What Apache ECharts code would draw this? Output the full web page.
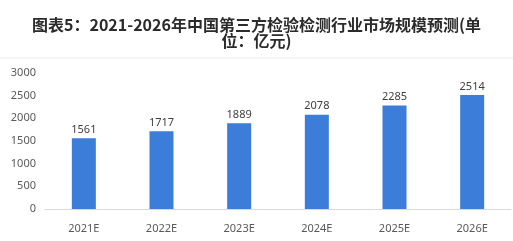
<!DOCTYPE html>
<html><head><meta charset="utf-8">
<script src="https://cdn.jsdelivr.net/npm/echarts@6/dist/echarts.min.js"></script>
<style>html,body{margin:0;padding:0;background:#fff}#c{width:513px;height:241px}</style>
</head><body><div id="c"></div>
<script>
const categories = ['2021E','2022E','2023E','2024E','2025E','2026E'];
const values = [1561,1717,1889,2078,2285,2514];
const titleText = '图表5：2021-2026年中国第三方检验检测行业市场规模预测(单\n位：亿元)';
const chart = echarts.init(document.getElementById('c'));
chart.setOption({
  animation:false,
  backgroundColor:'#fff',
  title:{text:titleText,left:'center',top:12,textStyle:{fontFamily:'Noto Sans CJK SC',fontSize:16,fontWeight:'bold',color:'#2b2b2b',lineHeight:16,align:'center'}},
  graphic:[{type:'line',shape:{x1:0,y1:58,x2:513,y2:58},style:{stroke:'#ececec',lineWidth:1}}],
  grid:{left:45,right:2,top:73,bottom:32},
  xAxis:{type:'category',data:categories,axisLine:{lineStyle:{color:'#d9d9d9'}},axisTick:{show:false},
    axisLabel:{color:'#595959',fontSize:11,fontFamily:'Noto Sans',margin:14}},
  yAxis:{type:'value',min:0,max:3000,interval:500,splitLine:{show:false},axisLine:{show:false},axisTick:{show:false},
    axisLabel:{color:'#595959',fontSize:11,fontFamily:'Noto Sans',margin:9,formatter:v=>String(v)}},
  series:[{type:'bar',data:values,barWidth:24,itemStyle:{color:'#3b7dd8'},
    label:{show:true,position:'top',distance:3,color:'#404040',fontSize:11,fontFamily:'Noto Sans'}}]
});
</script></body></html>
